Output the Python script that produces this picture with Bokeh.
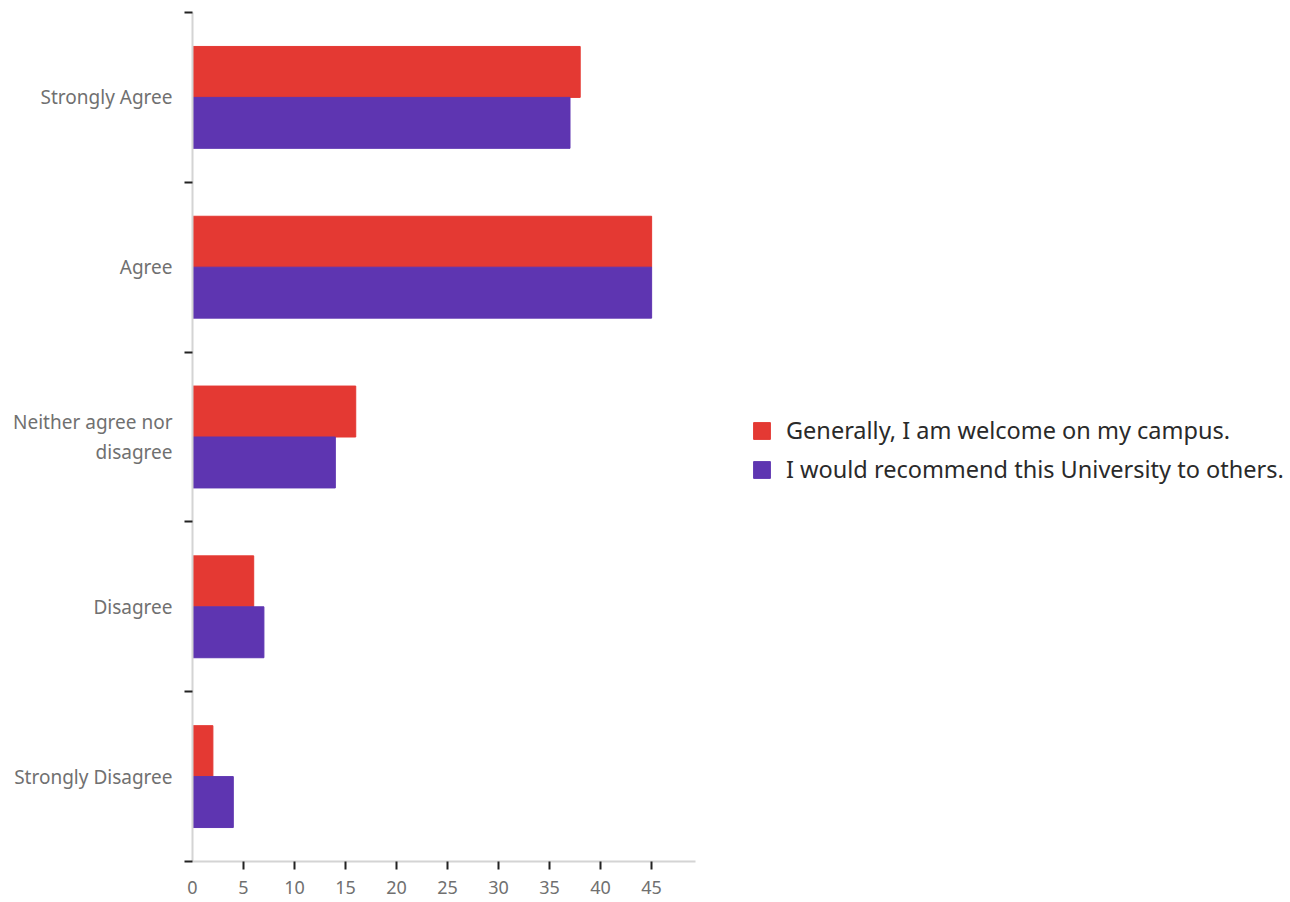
from bokeh.plotting import figure
from bokeh.models import Range1d, FixedTicker, Legend, LegendItem, ColumnDataSource
from bokeh.embed import file_html
from bokeh.resources import INLINE

categories = ["Strongly Agree", "Agree", "Neither agree nor\ndisagree", "Disagree", "Strongly Disagree"]
welcome = [38, 45, 16, 6, 2]
recommend = [37, 45, 14, 7, 4]
series_names = ["Generally, I am welcome on my campus.", "I would recommend this University to others."]
x_ticks = [0, 5, 10, 15, 20, 25, 30, 35, 40, 45]

RED = "#E43933"
PURPLE = "#5E35B1"
FONT = "Noto Sans"

n = len(categories)
centers = [n - i - 0.5 for i in range(n)]
bar_h = 0.3

src = ColumnDataSource(dict(
    yc=centers,
    y_red=[c + bar_h / 2 for c in centers],
    y_pur=[c - bar_h / 2 for c in centers],
    welcome=welcome,
    recommend=recommend,
))

p = figure(frame_width=503, frame_height=849, output_backend="svg", toolbar_location=None,
           x_range=Range1d(0, 49.3), y_range=Range1d(0, n),
           min_border_left=192, min_border_top=12, min_border_right=585, min_border_bottom=38)
p.outline_line_color = None
p.xgrid.visible = False
p.ygrid.visible = False
p.background_fill_color = "white"

r1 = p.hbar(y="y_red", left=0, right="welcome", height=bar_h, source=src,
            fill_color=RED, line_color=RED)
r2 = p.hbar(y="y_pur", left=0, right="recommend", height=bar_h, source=src,
            fill_color=PURPLE, line_color=PURPLE)

# y axis: labels at centers, ticks at boundaries (minor ticks)
p.yaxis.ticker = FixedTicker(ticks=centers, minor_ticks=[float(i) for i in range(n + 1)])
p.yaxis.major_label_overrides = {c: lab for c, lab in zip(centers, categories)}
p.yaxis.major_tick_out = 0
p.yaxis.major_tick_in = 0
p.yaxis.minor_tick_out = 8
p.yaxis.minor_tick_in = 0
p.yaxis.minor_tick_line_color = "#222222"
p.yaxis.minor_tick_line_width = 2
p.yaxis.axis_line_color = "#d4d4d4"
p.yaxis.axis_line_width = 2
p.yaxis.major_label_text_font = FONT
p.yaxis.major_label_text_font_size = "19px"
p.yaxis.major_label_text_color = "#707070"
p.yaxis.major_label_standoff = 12
p.yaxis.major_label_text_line_height = 1.16

# x axis: labels at every 5, ticks on all but 0 (minor ticks)
p.xaxis.ticker = FixedTicker(ticks=x_ticks, minor_ticks=[t for t in x_ticks if t != 0])
p.xaxis.major_tick_out = 0
p.xaxis.major_tick_in = 0
p.xaxis.minor_tick_out = 8
p.xaxis.minor_tick_in = 0
p.xaxis.minor_tick_line_color = "#222222"
p.xaxis.minor_tick_line_width = 2
p.xaxis.axis_line_color = "#d4d4d4"
p.xaxis.axis_line_width = 2
p.xaxis.major_label_text_font = FONT
p.xaxis.major_label_text_font_size = "18px"
p.xaxis.major_label_text_color = "#707070"
p.xaxis.major_label_standoff = 11

legend = Legend(items=[LegendItem(label=series_names[0], renderers=[r1]),
                       LegendItem(label=series_names[1], renderers=[r2])],
                location=(56, 376), orientation="vertical")
legend.border_line_color = None
legend.background_fill_alpha = 0
legend.margin = 0
legend.padding = 8
legend.glyph_width = 21
legend.glyph_height = 21
legend.label_standoff = 14
legend.spacing = 7
legend.label_text_font = FONT
legend.label_text_font_size = "23.5px"
legend.label_text_color = "#2a2a2a"
p.add_layout(legend, "right")

open("out.html", "w").write(file_html(p, INLINE))
